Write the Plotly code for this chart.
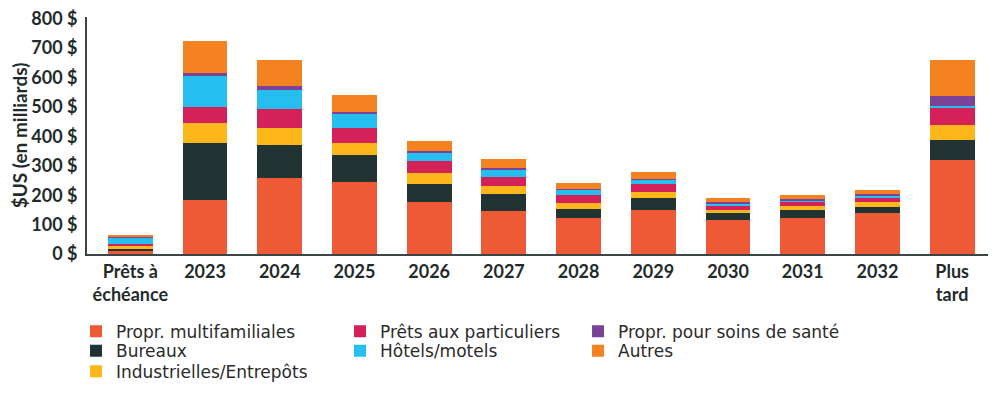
import plotly.graph_objects as go

categories = ["Prêts à<br>échéance", "2023", "2024", "2025", "2026", "2027", "2028",
              "2029", "2030", "2031", "2032", "Plus<br>tard"]

multifamiliales = [9, 184, 258, 246, 176, 146, 122, 149, 117, 124, 138, 320]
bureaux =         [11, 194, 112, 91, 63, 59, 32, 41, 24, 26, 21, 67]
industrielles =   [6, 69, 60, 40, 36, 27, 20, 22, 8, 13, 18, 52]
prets_part =      [9, 53, 64, 50, 40, 30, 28, 25, 13, 14, 12, 59]
hotels =          [20, 104, 63, 48, 27, 25, 16, 15, 10, 5, 11, 6]
sante =           [2, 11, 16, 9, 8, 7, 2, 2, 6, 4, 5, 33]
autres =          [9, 111, 87, 58, 35, 29, 23, 26, 12, 13, 11, 124]

y_ticks = [0, 100, 200, 300, 400, 500, 600, 700, 800]
y_tick_text = ["0 $", "100 $", "200 $", "300 $", "400 $", "500 $", "600 $", "700 $", "800 $"]

series_names = ["Propr. multifamiliales", "Bureaux", "Industrielles/Entrepôts",
                "Prêts aux particuliers", "Hôtels/motels", "Propr. pour soins de santé", "Autres"]
series_values = [multifamiliales, bureaux, industrielles, prets_part, hotels, sante, autres]
series_colors = ["#EE5A36", "#223333", "#FDB71A", "#D4215A", "#25BEEF", "#7B4397", "#F58220"]

# legend placement: (column x in paper, row y in paper); plot area is 237 px tall
col_x = [-0.0122, 0.2808, 0.545]
row_y = [-0.2519, -0.3346, -0.4207]
legend_pos = [(0, 0), (0, 1), (0, 2), (1, 0), (1, 1), (2, 0), (2, 1)]

font_fam = "Lato, 'Open Sans', sans-serif"
legend_fam = "'DejaVu Sans', sans-serif"
text_col = "#1f2b2b"

fig = go.Figure()
legend_layout = {}
for i, (name, vals, color) in enumerate(zip(series_names, series_values, series_colors)):
    leg_id = "legend" if i == 0 else f"legend{i + 1}"
    fig.add_trace(go.Bar(
        x=list(range(len(categories))), y=vals, name=name,
        marker=dict(color=color, line=dict(width=0)),
        width=0.6, legend=leg_id, showlegend=True,
    ))
    c, r = legend_pos[i]
    legend_layout[leg_id] = dict(
        x=col_x[c], y=row_y[r], xanchor="left", yanchor="top", orientation="v",
        font=dict(family=legend_fam, size=17, color="#2a2a2a"),
        bgcolor="rgba(0,0,0,0)", borderwidth=0,
        itemclick=False, itemdoubleclick=False, visible=True,
    )

# the page body adds an 8px offset, so the figure is sized to fit the window
fig.update_layout(
    width=992, height=386,
    margin=dict(l=79, r=12, t=9, b=140, autoexpand=False),
    showlegend=True,
    barmode="stack",
    plot_bgcolor="white", paper_bgcolor="white",
    font=dict(family=font_fam, color=text_col),
    xaxis=dict(
        tickmode="array", tickvals=list(range(len(categories))), ticktext=categories,
        range=[-0.58, 11.48], showgrid=False, zeroline=False, automargin=False,
        showline=True, linecolor="#3a4545", linewidth=2,
        ticks="", tickfont=dict(family=font_fam, size=18, color=text_col, weight="bold"),
    ),
    yaxis=dict(
        tickmode="array", tickvals=y_ticks, ticktext=y_tick_text,
        range=[0, 806], showgrid=False, zeroline=False, automargin=False,
        showline=True, linecolor="#3a4545", linewidth=2,
        ticks="", ticklabelstandoff=4, ticklabeloverflow="allow",
        tickfont=dict(family=font_fam, size=18, color=text_col, weight="bold"),
        title=dict(text="$US (en milliards)", standoff=8,
                   font=dict(family=font_fam, size=19, color=text_col, weight="bold")),
    ),
    **legend_layout,
)

fig.write_html("out.html")
